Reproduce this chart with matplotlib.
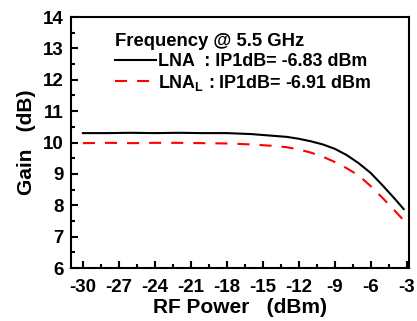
import matplotlib
matplotlib.use("Agg")
import matplotlib.pyplot as plt
from matplotlib.ticker import MultipleLocator

plt.rcParams['font.family'] = ['Liberation Sans', 'DejaVu Sans']
plt.rcParams['font.weight'] = 'bold'
plt.rcParams['axes.unicode_minus'] = False
plt.rcParams['mathtext.fontset'] = 'custom'
plt.rcParams['mathtext.rm'] = 'Liberation Sans:bold'
plt.rcParams['mathtext.bf'] = 'Liberation Sans:bold'

# Data
power_lna = [-30, -28, -26, -24, -22, -20, -18, -16, -14, -13, -12, -11, -10, -9, -8, -7, -6, -5, -4, -3.25]
gain_lna = [10.30, 10.30, 10.31, 10.30, 10.31, 10.30, 10.30, 10.27, 10.21, 10.18, 10.12, 10.04, 9.94, 9.80,
            9.60, 9.34, 9.03, 8.63, 8.21, 7.88]
power_lnal = [-30, -28, -26, -24, -22, -20, -18, -16, -14, -13, -12, -11, -10, -9, -8, -7, -6, -5, -4, -3.25]
gain_lnal = [9.98, 9.99, 9.98, 9.99, 9.99, 9.98, 9.97, 9.94, 9.89, 9.85, 9.78, 9.68, 9.55, 9.38,
             9.18, 8.95, 8.61, 8.23, 7.83, 7.52]
label_lna = "LNA  : IP1dB= -6.83 dBm"
label_lnal = r"LNA$_\mathrm{L}$ : IP1dB= -6.91 dBm"
legend_title = "Frequency @ 5.5 GHz"
x_ticks = [-30, -27, -24, -21, -18, -15, -12, -9, -6, -3]
y_ticks = [6, 7, 8, 9, 10, 11, 12, 13, 14]

fig = plt.figure(figsize=(4.17, 3.21), dpi=100)
ax = fig.add_axes([0.170, 0.165, 0.811, 0.782])

ax.plot(power_lna, gain_lna, color='black', lw=1.5, label=label_lna)
ax.plot(power_lnal, gain_lnal, color='red', lw=1.5, dashes=(5.8, 4.8), label=label_lnal)

ax.set_xlim(-31, -2.8)
ax.set_ylim(6, 14)
ax.set_xticks(x_ticks)
ax.set_yticks(y_ticks)
ax.xaxis.set_minor_locator(MultipleLocator(1.5))
ax.yaxis.set_minor_locator(MultipleLocator(0.5))
ax.tick_params(which='both', direction='in', top=False, right=False, width=1.5, labelsize=13.5)
ax.tick_params(which='major', length=5)
ax.tick_params(which='minor', length=3)
ax.tick_params(axis='x', pad=8)
ax.tick_params(axis='y', pad=5)
for lab in ax.get_xticklabels() + ax.get_yticklabels():
    lab.set_fontweight('bold')
for s in ax.spines.values():
    s.set_linewidth(1.5)

ax.set_xlabel("RF Power   (dBm)", fontsize=15, fontweight='bold', labelpad=1)
ax.set_ylabel("Gain   (dB)", fontsize=15, fontweight='bold', labelpad=5)

leg = ax.legend(title=legend_title, loc='upper left', bbox_to_anchor=(0.092, 0.985),
                frameon=False, fontsize=12.9, title_fontsize=13.3, handlelength=2.3,
                handletextpad=0.12, labelspacing=0.15, alignment='left', borderpad=0.2)
leg.get_title().set_fontweight('bold')
for t in leg.get_texts():
    t.set_fontweight('bold')

fig.savefig("out.png", dpi=100)
